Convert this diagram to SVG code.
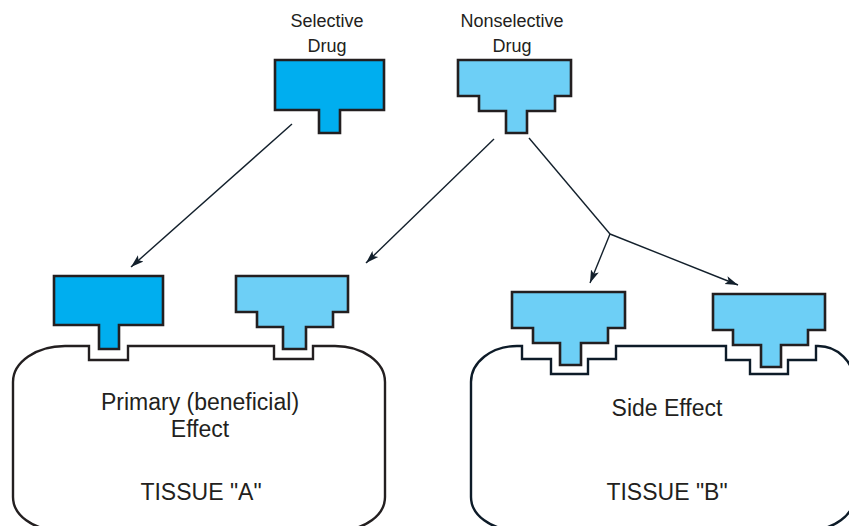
<svg xmlns="http://www.w3.org/2000/svg" width="849" height="526" viewBox="0 0 849 526">
<defs>
<style>
.sel{fill:#00aeef;stroke:#231f20;stroke-width:2.6;stroke-linejoin:miter}
.non{fill:#6dcff6;stroke:#231f20;stroke-width:2.6;stroke-linejoin:miter}
.tis{fill:#fff;stroke:#231f20;stroke-width:2.4;stroke-linejoin:miter}
.tisb{fill:#fff;stroke:#0d1b28;stroke-width:2.4;stroke-linejoin:miter}
.lbl{font-family:"Liberation Sans",Arial,sans-serif;fill:#231f20;text-anchor:middle}
.small{font-size:18px}
.big{font-size:23px}
.con{fill:none;stroke:#13202c;stroke-width:1.4}
</style>
<marker id="ah" markerUnits="userSpaceOnUse" markerWidth="14" markerHeight="10" refX="13" refY="5" orient="auto">
<path d="M0,0.8 L13,5 L0,9.2 L3,5 Z" fill="#13202c"/>
</marker>
</defs>
<g id="tissueA">
<path class="tis" d="M13,382 A52,36 0 0 1 65,346 L89,346 L89,360 L128,360 L128,346 L274,346 L274,359 L313,359 L313,346 L335,346 A50,36 0 0 1 385,382 L385,497 A45,33 0 0 1 340,530 L58,530 A45,33 0 0 1 13,497 Z"/>
<text class="lbl big" x="200" y="410">Primary (beneficial)</text>
<text class="lbl big" x="200" y="437">Effect</text>
<text class="lbl big" x="201" y="500">TISSUE "A"</text>
</g>
<g id="tissueB">
<path class="tisb" d="M471,382 A46,36 0 0 1 517,346 L522,346 L522,359 L551,359 L551,374 L588,374 L588,359 L616,359 L616,346 L726,346 L726,360 L750,360 L750,374 L788,374 L788,360 L816,360 L816,346 L818,346 A36,36 0 0 1 854,382 L854,497 A45,33 0 0 1 809,530 L516,530 A45,33 0 0 1 471,497 Z"/>
<text class="lbl big" x="667" y="416">Side Effect</text>
<text class="lbl big" x="667" y="500">TISSUE "B"</text>
</g>
<g id="selectiveDrug">
<text class="lbl small" x="327" y="27">Selective</text>
<text class="lbl small" x="327" y="52">Drug</text>
<polygon class="sel" points="275,60 384,60 384,110 340,110 340,133 319,133 319,110 275,110"/>
</g>
<g id="nonselectiveDrug">
<text class="lbl small" x="512" y="27">Nonselective</text>
<text class="lbl small" x="512" y="52">Drug</text>
<polygon class="non" points="458,60 571,60 571,96 555,96 555,111 527,111 527,133 506,133 506,111 479,111 479,96 458,96"/>
</g>
<g id="drugA1">
<polygon class="sel" points="54,276 163,276 163,325 119,325 119,349 99,349 99,325 54,325"/>
</g>
<g id="drugA2">
<polygon class="non" points="236,276 348,276 348,312 333,312 333,327 306,327 306,349 283,349 283,327 257,327 257,312 236,312"/>
</g>
<g id="drugB1">
<polygon class="non" points="512,292 625,292 625,328 608,328 608,343 581,343 581,365 560,365 560,343 533,343 533,328 512,328"/>
</g>
<g id="drugB2">
<polygon class="non" points="713,294 825,294 825,330 808,330 808,345 781,345 781,367 761,367 761,345 733,345 733,330 713,330"/>
</g>
<g id="connectors">
<line class="con" x1="292" y1="124" x2="131" y2="267" marker-end="url(#ah)"/>
<line class="con" x1="494" y1="139" x2="366" y2="263" marker-end="url(#ah)"/>
<polyline class="con" points="529,138 610,234"/>
<line class="con" x1="610" y1="234" x2="590" y2="283" marker-end="url(#ah)"/>
<line class="con" x1="610" y1="234" x2="738" y2="285" marker-end="url(#ah)"/>
</g>
</svg>
